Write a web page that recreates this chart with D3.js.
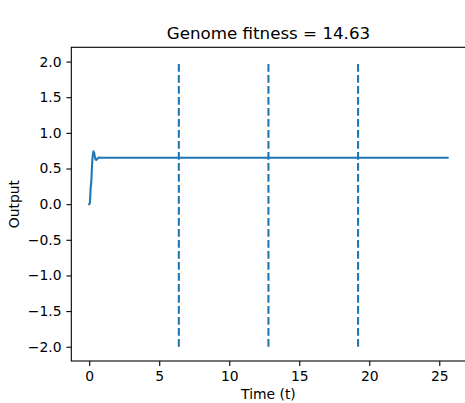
<!DOCTYPE html>
<html>
<head>
<meta charset="utf-8">
<script src="https://cdn.jsdelivr.net/npm/d3@7"></script>
<style>
  body { margin: 0; background: #fff; }
  text { font-family: "DejaVu Sans", sans-serif; fill: #000; }
</style>
</head>
<body>
<div id="chart"></div>
<script>
// Data
var times   = [0, 0.05, 0.1, 0.15, 0.2, 0.25, 0.3, 0.35, 0.4, 0.45, 0.5, 0.6, 0.7, 0.8, 1.0, 25.6];
var outputs = [0, 0.02, 0.22, 0.32, 0.55, 0.68, 0.74, 0.72, 0.67, 0.63, 0.62, 0.64, 0.655, 0.65, 0.65, 0.65];
var markers = [6.4, 12.8, 19.2];
var xTicks  = [0, 5, 10, 15, 20, 25];
var yTicks  = [-2, -1.5, -1, -0.5, 0, 0.5, 1, 1.5, 2];

var W = 465, H = 403;
var plotLeft = 71.3, plotRight = 465.6, plotTop = 47.3, plotBottom = 361;

var svg = d3.select("#chart")
  .append("svg")
    .attr("width", W)
    .attr("height", H);

var x = d3.scaleLinear().domain([-1.28, 26.88]).range([plotLeft, plotRight]);
var y = d3.scaleLinear().domain([-2.2, 2.2]).range([plotBottom, plotTop]);

//Axes
var xAxis = svg.append("g")
  .attr("transform", "translate(0," + plotBottom + ")")
  .call(d3.axisBottom(x).tickValues(xTicks).tickFormat(d3.format("d")).tickSize(4.9).tickPadding(4.9));
var yAxis = svg.append("g")
  .attr("transform", "translate(" + plotLeft + ",0)")
  .call(d3.axisLeft(y).tickValues(yTicks).tickFormat(d3.format(".1f")).tickSize(4.9).tickPadding(4.9));

[xAxis, yAxis].forEach(function(g) {
  g.select(".domain").remove();
  g.selectAll(".tick line").attr("stroke", "#000").attr("stroke-width", 1.1);
  g.selectAll(".tick text")
    .style("font-family", "DejaVu Sans")
    .style("font-size", "13.9px")
    .attr("fill", "#000");
});

//Vertical dashed markers (drawn from bottom to top)
svg.selectAll("line.marker")
  .data(markers)
  .enter()
  .append("line")
    .attr("class", "marker")
    .attr("x1", function(d) { return x(d); })
    .attr("x2", function(d) { return x(d); })
    .attr("y1", y(-2))
    .attr("y2", y(2))
    .attr("stroke", "#1f77b4")
    .attr("stroke-width", 2.08)
    .attr("stroke-dasharray", "7.7,3.3");

//Output line
var pts = times.map(function(t, i) { return [t, outputs[i]]; });
svg.append("path")
  .datum(pts)
  .attr("fill", "none")
  .attr("stroke", "#1f77b4")
  .attr("stroke-width", 2.08)
  .attr("stroke-linejoin", "round")
  .attr("stroke-linecap", "square")
  .attr("d", d3.line().x(function(d) { return x(d[0]); }).y(function(d) { return y(d[1]); }));

//Frame
svg.append("rect")
  .attr("x", plotLeft).attr("y", plotTop)
  .attr("width", plotRight - plotLeft).attr("height", plotBottom - plotTop)
  .attr("fill", "none")
  .attr("stroke", "#000")
  .attr("stroke-width", 1.1);

//Title and labels
svg.append("text")
  .attr("x", (plotLeft + plotRight) / 2)
  .attr("y", plotTop - 8.3)
  .attr("text-anchor", "middle")
  .style("font-size", "16.7px")
  .text("Genome fitness = 14.63");

svg.append("text")
  .attr("x", (plotLeft + plotRight) / 2)
  .attr("y", 398.5)
  .attr("text-anchor", "middle")
  .style("font-size", "13.9px")
  .text("Time (t)");

svg.append("text")
  .attr("transform", "translate(18.5," + ((plotTop + plotBottom) / 2) + ") rotate(-90)")
  .attr("text-anchor", "middle")
  .style("font-size", "13.9px")
  .text("Output");
</script>
</body>
</html>
